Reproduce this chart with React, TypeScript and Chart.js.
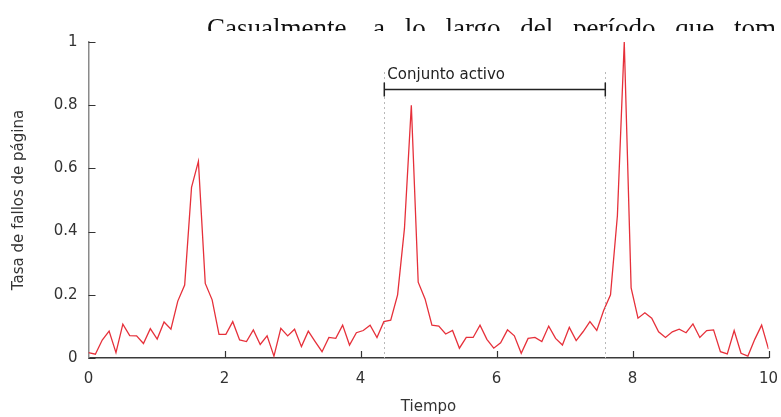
import React, { useEffect, useRef } from "react";
import { Chart, registerables } from "chart.js";

Chart.register(...registerables);

const PAGE_TEXT = "Casualmente, a lo largo del período que tom";
const X_TITLE = "Tiempo";
const Y_TITLE = "Tasa de fallos de página";
const ACTIVE_LABEL = "Conjunto activo";

const X_TICKS = [0, 2, 4, 6, 8, 10];
const Y_TICKS = [0, 0.2, 0.4, 0.6, 0.8, 1];

const T_START = 0;
const T_END = 10;

// page-fault rate sampled at 100 evenly spaced instants between T_START and T_END
const FAULT_RATE = [
  0.017, 0.012, 0.057, 0.085, 0.017, 0.107, 0.071, 0.07, 0.046, 0.093,
  0.06, 0.114, 0.091, 0.18, 0.231, 0.54, 0.622, 0.236, 0.184, 0.075,
  0.075, 0.115, 0.057, 0.052, 0.089, 0.043, 0.07, 0.006, 0.094, 0.07,
  0.091, 0.036, 0.085, 0.052, 0.02, 0.065, 0.062, 0.104, 0.041, 0.08,
  0.087, 0.104, 0.065, 0.115, 0.12, 0.2, 0.41, 0.8, 0.24, 0.187,
  0.104, 0.101, 0.076, 0.087, 0.031, 0.065, 0.065, 0.104, 0.059, 0.031,
  0.048, 0.089, 0.07, 0.015, 0.062, 0.065, 0.052, 0.101, 0.062, 0.041,
  0.097, 0.055, 0.083, 0.115, 0.087, 0.15, 0.2, 0.45, 1.0, 0.222,
  0.126, 0.143, 0.126, 0.083, 0.065, 0.083, 0.091, 0.08, 0.108, 0.065,
  0.087, 0.089, 0.02, 0.013, 0.087, 0.015, 0.006, 0.059, 0.104, 0.028,
];

// working-set window (time), bracket level and top of guide lines (rate)
const ACTIVE_WINDOW = [4.35, 7.6];
const BRACKET_LEVEL = 0.85;
const GUIDE_TOP = 0.905;

const FONT = "'DejaVu Sans', sans-serif";
const TEXT_COLOR = "#333";

const annotationPlugin = {
  id: "pageFaultDecor",
  afterDatasetsDraw(chart: any) {
    const { ctx, chartArea, scales } = chart;
    const xs = scales.x;
    const ys = scales.y;
    ctx.save();
    // inward tick marks
    ctx.strokeStyle = "#333";
    ctx.lineWidth = 1.2;
    ctx.beginPath();
    Y_TICKS.forEach((v) => {
      const py = Math.round(ys.getPixelForValue(v)) + 0.5;
      ctx.moveTo(chartArea.left, py);
      ctx.lineTo(chartArea.left + 7, py);
    });
    X_TICKS.forEach((v) => {
      if (v === T_START) return;
      const px = Math.round(xs.getPixelForValue(v)) + 0.5;
      ctx.moveTo(px, chartArea.bottom);
      ctx.lineTo(px, chartArea.bottom - 7);
    });
    ctx.stroke();

    // dotted guides
    const x1 = xs.getPixelForValue(ACTIVE_WINDOW[0]);
    const x2 = xs.getPixelForValue(ACTIVE_WINDOW[1]);
    const gTop = ys.getPixelForValue(GUIDE_TOP);
    const gBot = ys.getPixelForValue(0);
    ctx.strokeStyle = "#b8b8b8";
    ctx.lineWidth = 1;
    ctx.setLineDash([2, 3]);
    ctx.beginPath();
    [x1, x2].forEach((x) => {
      const px = Math.round(x) + 0.5;
      ctx.moveTo(px, gTop);
      ctx.lineTo(px, gBot);
    });
    ctx.stroke();
    ctx.setLineDash([]);

    // bracket
    const by = Math.round(ys.getPixelForValue(BRACKET_LEVEL)) + 0.5;
    ctx.strokeStyle = "#222";
    ctx.lineWidth = 1.5;
    ctx.beginPath();
    ctx.moveTo(x1, by);
    ctx.lineTo(x2, by);
    ctx.moveTo(x1, by - 7);
    ctx.lineTo(x1, by + 7);
    ctx.moveTo(x2, by - 7);
    ctx.lineTo(x2, by + 7);
    ctx.stroke();

    // label
    ctx.fillStyle = "#222";
    ctx.font = `15px ${FONT}`;
    ctx.textAlign = "left";
    ctx.textBaseline = "alphabetic";
    ctx.fillText(ACTIVE_LABEL, x1 + 3, by - 11);
    ctx.restore();
  },
};

export default function App() {
  const canvasRef = useRef<HTMLCanvasElement | null>(null);

  useEffect(() => {
    const canvas = canvasRef.current;
    if (!canvas) return;
    const step = (T_END - T_START) / (FAULT_RATE.length - 1);
    const points = FAULT_RATE.map((v, i) => ({ x: T_START + i * step, y: v }));

    const chart = new Chart(canvas, {
      type: "line",
      data: {
        datasets: [
          {
            data: points,
            borderColor: "#e6303a",
            borderWidth: 1.3,
            pointRadius: 0,
            tension: 0,
            fill: false,
          },
        ],
      },
      options: {
        animation: false,
        responsive: false,
        maintainAspectRatio: false,
        devicePixelRatio: 1,
        layout: { padding: { left: 0, top: 42, right: 12.5, bottom: 0 } },
        plugins: {
          legend: { display: false },
          tooltip: { enabled: false },
          title: { display: false },
        },
        scales: {
          x: {
            type: "linear",
            min: T_START,
            max: T_END,
            afterBuildTicks: (s: any) => {
              s.ticks = X_TICKS.map((v) => ({ value: v }));
            },
            afterFit: (s: any) => {
              s.height = 59;
              s.paddingLeft = 0;
              s.paddingRight = 0;
            },
            grid: { display: false, drawTicks: false },
            border: { display: true, color: "#3a3a3a", width: 1.5 },
            ticks: {
              padding: 12,
              color: TEXT_COLOR,
              font: { family: FONT, size: 15 },
              maxRotation: 0,
              autoSkip: false,
            },
            title: {
              display: true,
              text: X_TITLE,
              color: TEXT_COLOR,
              font: { family: FONT, size: 15 },
              padding: { top: 0, bottom: 1 },
            },
          },
          y: {
            type: "linear",
            min: 0,
            max: 1,
            afterBuildTicks: (s: any) => {
              s.ticks = Y_TICKS.map((v) => ({ value: v }));
            },
            afterFit: (s: any) => {
              s.width = 88.5;
              s.paddingTop = 0;
              s.paddingBottom = 0;
            },
            grid: { display: false, drawTicks: false },
            border: { display: true, color: "#8a8a8a", width: 1.5 },
            ticks: {
              padding: 11,
              color: TEXT_COLOR,
              font: { family: FONT, size: 15 },
              callback: (v: any) => String(Number(Number(v).toFixed(1))),
            },
            title: {
              display: true,
              text: Y_TITLE,
              color: TEXT_COLOR,
              font: { family: FONT, size: 15 },
              padding: { top: 10, bottom: 0 },
            },
          },
        },
      },
      plugins: [annotationPlugin],
    });
    return () => chart.destroy();
  }, []);

  return (
    <div
      style={{
        position: "absolute",
        left: 0,
        top: 0,
        width: 781,
        height: 417,
        background: "#fff",
        overflow: "hidden",
      }}
    >
      <canvas
        ref={canvasRef}
        width={781}
        height={417}
        style={{ position: "absolute", left: 0, top: 0, width: 781, height: 417 }}
      />
      <div
        style={{
          position: "absolute",
          left: 207,
          top: 0,
          width: 574,
          height: 31,
          overflow: "hidden",
          whiteSpace: "nowrap",
          fontFamily: "'Liberation Serif', serif",
          fontSize: 27,
          lineHeight: "27px",
          wordSpacing: 13,
          color: "#111",
        }}
      >
        <div style={{ paddingTop: 15 }}>{PAGE_TEXT}</div>
      </div>
    </div>
  );
}
